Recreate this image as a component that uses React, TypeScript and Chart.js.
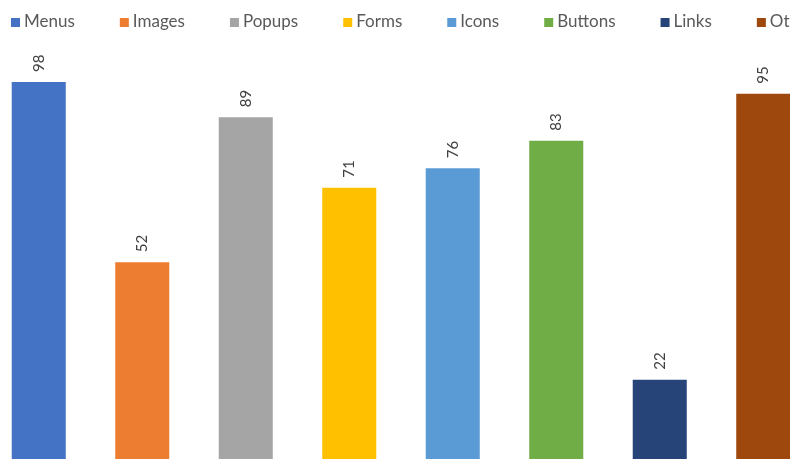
import React, { useEffect, useRef } from "react";
import { Chart, registerables } from "chart.js";

Chart.register(...registerables);

const categories: string[] = ["Menus", "Images", "Popups", "Forms", "Icons", "Buttons", "Links", "Other"];
const values: number[] = [98, 52, 89, 71, 76, 83, 22, 95];
const colors: string[] = ["#4472C4", "#ED7D31", "#A5A5A5", "#FFC000", "#5B9BD5", "#70AD47", "#264478", "#9E480E"];

const FONT = "Lato, 'Open Sans', sans-serif";

const legendPlugin = {
  id: "officeLegend",
  afterDraw(chart: any) {
    const ctx: CanvasRenderingContext2D = chart.ctx;
    const labels: string[] = chart.data.labels;
    const bg: string[] = chart.data.datasets[0].backgroundColor;
    ctx.save();
    ctx.font = `17px ${FONT}`;
    ctx.textBaseline = "middle";
    ctx.textAlign = "left";
    const box = 9;
    const gapBoxText = 4;
    const gapItems = 45;
    let x = 24;
    const yMid = 21.5;
    labels.forEach((l, i) => {
      ctx.fillStyle = bg[i];
      ctx.fillRect(x, 18, box, box);
      ctx.fillStyle = "#595959";
      ctx.fillText(l, x + box + gapBoxText, yMid);
      x += box + gapBoxText + ctx.measureText(l).width + gapItems;
    });
    ctx.restore();
  },
};

const valueLabelPlugin = {
  id: "valueLabels",
  afterDatasetsDraw(chart: any) {
    const ctx: CanvasRenderingContext2D = chart.ctx;
    const meta = chart.getDatasetMeta(0);
    const data = chart.data.datasets[0].data;
    ctx.save();
    ctx.font = `15px ${FONT}`;
    ctx.fillStyle = "#404040";
    ctx.textAlign = "left";
    ctx.textBaseline = "middle";
    meta.data.forEach((bar: any, i: number) => {
      ctx.save();
      ctx.translate(bar.x, bar.y - 10);
      ctx.rotate(-Math.PI / 2);
      ctx.fillText(String(data[i]), 0, 0);
      ctx.restore();
    });
    ctx.restore();
  },
};

export default function App() {
  const ref = useRef<HTMLCanvasElement>(null);
  useEffect(() => {
    if (!ref.current) return;
    const chart = new Chart(ref.current, {
      type: "bar",
      data: {
        labels: categories,
        datasets: [
          {
            label: "Count",
            data: values,
            backgroundColor: colors,
            borderWidth: 0,
            barPercentage: 0.522,
            categoryPercentage: 1,
          },
        ],
      },
      options: {
        responsive: false,
        animation: false,
        layout: { padding: { top: 35, left: 0, right: 0, bottom: 0 } },
        plugins: {
          legend: { display: false },
          tooltip: { enabled: false },
        },
        scales: {
          x: { display: false, offset: true },
          y: { display: false, min: 0, max: 110 },
        },
      },
      plugins: [legendPlugin, valueLabelPlugin],
    });
    return () => chart.destroy();
  }, []);
  return (
    <div
      style={{
        position: "fixed",
        left: 0,
        top: 0,
        width: 790,
        height: 459,
        overflow: "hidden",
        background: "#fff",
      }}
    >
      <canvas
        ref={ref}
        width={828}
        height={466}
        style={{ position: "absolute", left: -13, top: 0, width: 828, height: 466 }}
      />
    </div>
  );
}
